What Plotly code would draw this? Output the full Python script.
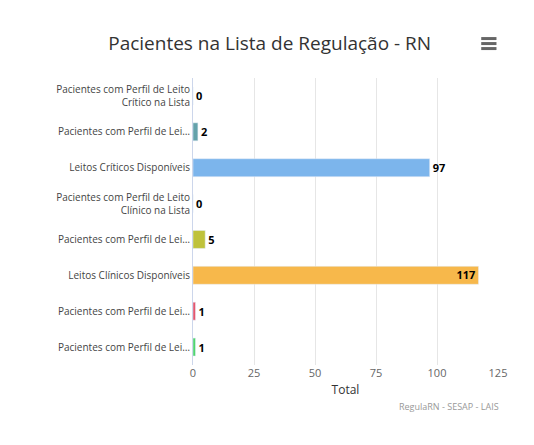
import plotly.graph_objects as go

categories = ["Pacientes com Perfil de Leito<br>Crítico na Lista", "Pacientes com Perfil de Lei…",
              "Leitos Críticos Disponíveis", "Pacientes com Perfil de Leito<br>Clínico na Lista",
              "Pacientes com Perfil de Lei…", "Leitos Clínicos Disponíveis",
              "Pacientes com Perfil de Lei…", "Pacientes com Perfil de Lei…"]
values = [0, 2, 97, 0, 5, 117, 1, 1]
colors = ["#434348", "#64a2ab", "#7cb5ec", "#90ed7d", "#bfc23a", "#f7b84b", "#e4536b", "#4cd46b"]

ids = [f"c{i}" for i in range(len(categories))]
fig = go.Figure(go.Bar(
    y=ids, x=values, orientation="h", marker_color=colors, width=0.5,
    text=[f"<b>{v}</b>" for v in values],
    textposition=["outside"] * 5 + ["inside", "outside", "outside"],
    insidetextanchor="end",
    textfont=dict(size=11, color="#000000", family="Open Sans"),
    insidetextfont=dict(size=12, color="#000000", family="Open Sans"),
    cliponaxis=False,
))
fig.update_layout(
    width=534, height=445, margin=dict(l=185, r=44, t=70, b=88),
    paper_bgcolor="white", plot_bgcolor="white",
    uniformtext=dict(minsize=11, mode="show"),
    title=dict(text="Pacientes na Lista de Regulação - RN", x=0.49, y=0.935, xanchor="center",
               font=dict(size=19, color="#333333", family="Open Sans")),
    showlegend=False, bargap=0.5,
    font=dict(family="Open Sans", color="#666666", size=11),
)
fig.update_yaxes(tickmode="array", tickvals=ids, ticktext=categories, autorange="reversed",
                 showline=True, linecolor="#ccd6eb", ticks="", tickfont=dict(size=10, color="#444444"))
fig.update_xaxes(range=[0, 125], dtick=25, showgrid=True, gridcolor="#e6e6e6", zeroline=False,
                 title=dict(text="Total", font=dict(size=12, color="#333333"), standoff=6),
                 tickfont=dict(size=11, color="#666666"))
fig.add_annotation(text="RegulaRN - SESAP - LAIS", xref="paper", yref="paper", x=1.01, y=-0.175,
                   xanchor="right", showarrow=False, font=dict(size=9, color="#999999"))
fig.add_shape(type="line", xref="paper", yref="paper", x0=1.1, x1=1.1, y0=-0.35, y1=1.3,
              line=dict(color="#dddddd", width=1))
for dy in (-5, 0, 5):
    fig.add_shape(type="line", xref="paper", yref="paper", x0=0.945, x1=0.995,
                  y0=1.12 + dy / 287, y1=1.12 + dy / 287, line=dict(color="#666666", width=3))
fig.write_html("out.html")
